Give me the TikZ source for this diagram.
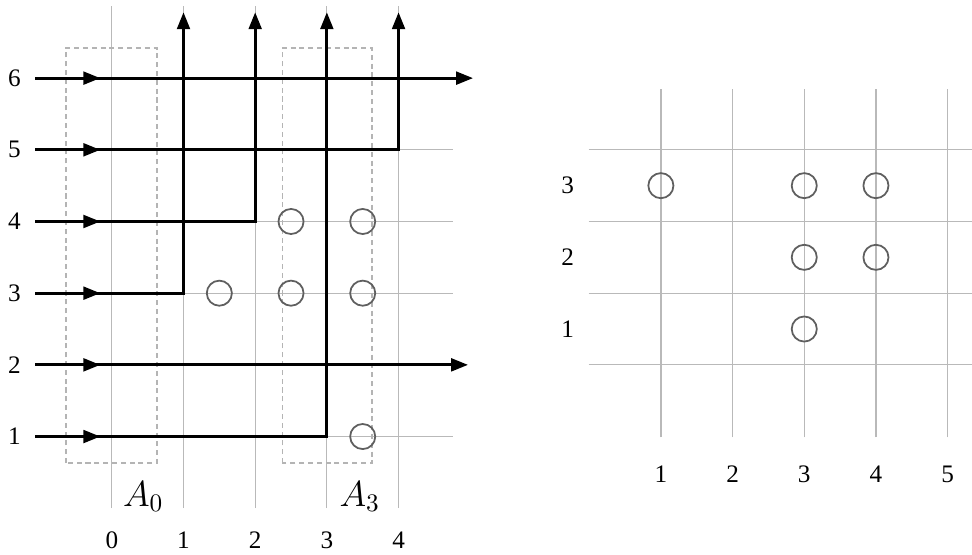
\documentclass[tikz,border=0pt]{standalone}
\usepackage{fontspec}
\setmainfont{Liberation Serif}
\usetikzlibrary{arrows.meta,positioning}
\definecolor{GridGray}{RGB}{185,185,185}
\definecolor{RingGray}{RGB}{95,95,95}
\definecolor{BoxGray}{RGB}{180,180,180}

\begin{document}
\begin{tikzpicture}[
    gridline/.style={GridGray, line width=0.5pt},
    wire/.style={black, line width=1.2pt},
    wirearr/.style={wire, -{Triangle[length=6.7pt, width=5pt]}},
    ring/.style={circle, draw=RingGray, line width=0.7pt,
                 minimum size=0.35cm, inner sep=0pt},
    area/.style={draw=BoxGray, dash pattern=on 2pt off 1.5pt, line width=0.5pt},
    lbl/.style={font=\normalsize, inner sep=1pt},
    setlbl/.style={font=\Large, inner sep=0pt}
  ]
  \useasboundingbox (-1.56,-0.64) rectangle (12.0,7.09);

  % left grid
  \foreach \x in {0,...,4} {
    \draw[gridline] (\x,0) -- (\x,7.0);
    \node[lbl] (col\x) at (\x,-0.45) {\x};
  }
  \foreach \y in {1,...,6} {
    \draw[gridline] (-1.07,\y) -- (4.76,\y);
    \node[lbl] (row\y) at (-1.36,\y) {\y};
    \coordinate (in\y) at (-1.07,\y);
  }

  % dashed sets
  \draw[area] (-0.64,0.63) rectangle (0.63,6.42);
  \draw[area] (2.38,0.63) rectangle (3.63,6.42);
  \node[setlbl] (a0) at (0.44,0.16) {$A_0$};
  \node[setlbl] (a3) at (3.46,0.16) {$A_3$};

  % wires
  \coordinate (out1) at (1,6.92);
  \coordinate (out2) at (2,6.92);
  \coordinate (out3) at (3,6.92);
  \coordinate (out4) at (4,6.92);
  \foreach \y in {1,...,6}
    \draw[wirearr] (in\y) -- ++(0.91,0);
  \draw[wirearr] (in6) -- (5.04,6);
  \draw[wirearr] (in5) -- (4,5) -- (out4);
  \draw[wirearr] (in4) -- (2,4) -- (out2);
  \draw[wirearr] (in3) -- (1,3) -- (out1);
  \draw[wirearr] (in2) -- (4.97,2);
  \draw[wirearr] (in1) -- (3,1) -- (out3);

  \foreach \x/\y [count=\i] in {2.5/4,3.5/4,1.5/3,2.5/3,3.5/3,3.5/1}
    \node[ring] (lc\i) at (\x,\y) {};

  % right grid
  \begin{scope}[xshift=6.66cm]
    \foreach \x in {1,...,5} {
      \draw[gridline] (\x,0.99) -- (\x,5.85);
      \node[lbl] (rcol\x) at (\x,0.47) {\x};
    }
    \foreach \y in {2,...,5}
      \draw[gridline] (-0.01,\y) -- (5.34,\y);
    \foreach \y in {1,2,3}
      \node[lbl] (rrow\y) at (-0.3,\y+1.5) {\y};
    \foreach \x/\y [count=\i] in {1/4.5,3/4.5,4/4.5,3/3.5,4/3.5,3/2.5}
      \node[ring] (rc\i) at (\x,\y) {};
  \end{scope}
\end{tikzpicture}
\end{document}
